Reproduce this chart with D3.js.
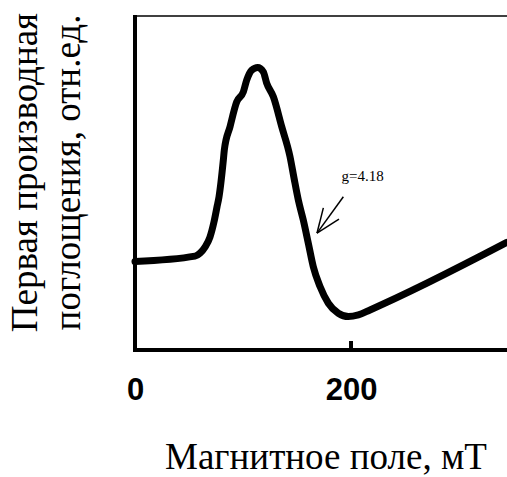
<!DOCTYPE html>
<html><head><meta charset="utf-8">
<script src="https://cdn.jsdelivr.net/npm/d3@7"></script>
<style>body{margin:0;background:#fff}svg{display:block}
.serif{font-family:"Liberation Serif","Times New Roman",serif}
</style>
</head><body>
<script>
// Magnetic field, mT
const fieldValues = [0, 55.6, 60.2, 64.8, 69.4, 73.1, 75.9, 77.8, 81.8, 82.7, 88.0, 94.2, 100.3, 103.4, 108.1, 113.6, 118.8, 121.9, 128.1, 135.8, 143.5, 147.2, 151.2, 155.8, 160.5, 165.1, 171.3, 179.0, 188.2, 197.5, 206.8, 217.6, 344.2];
// First derivative of absorption, rel. units
const signalValues = [26.5, 28.1, 29.0, 30.8, 33.8, 38.3, 42.8, 45.9, 56.9, 59.9, 66.9, 74.3, 77.3, 80.8, 83.8, 84.6, 83.3, 79.9, 75.8, 66.9, 57.9, 51.5, 44.9, 38.9, 31.9, 24.9, 19.0, 14.0, 11.0, 10.0, 10.5, 12.0, 32.2];
const xTicks = [0, 200];
const xTickLabels = ["0", "200"];
const xTitle = "Магнитное поле, мТ";
const yTitleLines = ["Первая производная", "поглощения, отн.ед."];
const annotationText = "g=4.18";
const annotationPoint = [168.5, 35.0]; // arrow tip (data units)
const annotationTail = [192.9, 45.9];

const W = 507, H = 477;
const mLeft = 135, mRight = 507, mTop = 16, mBottom = 350;
const x = d3.scaleLinear().domain([0, 344.4]).range([mLeft, mRight]);
const y = d3.scaleLinear().domain([0, 100]).range([mBottom, mTop]);

const svg = d3.select("body").append("svg").attr("width", W).attr("height", H);

// top border (thin)
svg.append("line").attr("x1", mLeft).attr("x2", mRight).attr("y1", mTop).attr("y2", mTop)
  .attr("stroke", "#000").attr("stroke-width", 1.5);

// curve
const data = fieldValues.map((v, i) => [v, signalValues[i]]);
svg.append("path").datum(data)
  .attr("d", d3.line().x(d => x(d[0])).y(d => y(d[1])).curve(d3.curveMonotoneX))
  .attr("fill", "none").attr("stroke", "#000").attr("stroke-width", 7)
  .attr("stroke-linejoin", "round").attr("stroke-linecap", "round");

// x axis
const xAxis = d3.axisBottom(x).tickValues(xTicks).tickFormat((d, i) => xTickLabels[i]).tickSize(0).tickPadding(28);
const gx = svg.append("g").attr("transform", `translate(0,${mBottom})`).call(xAxis);
gx.select(".domain").remove();
gx.selectAll("text").attr("font-family", "Liberation Sans, Arial, sans-serif")
  .attr("font-weight", "bold").attr("font-size", 31).attr("fill", "#000");
svg.append("line").attr("x1", mLeft - 2).attr("x2", mRight).attr("y1", mBottom).attr("y2", mBottom)
  .attr("stroke", "#000").attr("stroke-width", 4);
// tick mark at 200 (upward)
svg.append("line").attr("x1", x(200)).attr("x2", x(200)).attr("y1", mBottom).attr("y2", mBottom - 9)
  .attr("stroke", "#000").attr("stroke-width", 4);
// y axis (thick)
svg.append("line").attr("x1", mLeft).attr("x2", mLeft).attr("y1", mTop - 1).attr("y2", mBottom + 2)
  .attr("stroke", "#000").attr("stroke-width", 4);

// axis titles
svg.append("text").attr("class", "serif").attr("x", 326).attr("y", 469).attr("text-anchor", "middle")
  .attr("font-size", 37).text(xTitle);
const yt = svg.append("text").attr("class", "serif").attr("transform", "translate(0,172.5) rotate(-90)")
  .attr("text-anchor", "middle").attr("font-size", 37);
yt.append("tspan").attr("class", "serif").attr("x", 0).attr("y", 37).text(yTitleLines[0]);
yt.append("tspan").attr("class", "serif").attr("x", 0).attr("y", 80).text(yTitleLines[1]);

// annotation
svg.append("text").attr("class", "serif").attr("x", 341.5).attr("y", 181)
  .attr("font-size", 15).text(annotationText);
const tip = [x(annotationPoint[0]), y(annotationPoint[1])];
const tail = [x(annotationTail[0]), y(annotationTail[1])];
svg.append("line").attr("x1", tail[0]).attr("y1", tail[1]).attr("x2", tip[0]).attr("y2", tip[1])
  .attr("stroke", "#000").attr("stroke-width", 1.5);
const ang = Math.atan2(tail[1] - tip[1], tail[0] - tip[0]);
[0.38, -0.38].forEach(a => {
  svg.append("line").attr("x1", tip[0]).attr("y1", tip[1])
    .attr("x2", tip[0] + 26 * Math.cos(ang + a)).attr("y2", tip[1] + 26 * Math.sin(ang + a))
    .attr("stroke", "#000").attr("stroke-width", 1.5);
});
</script>
</body></html>
